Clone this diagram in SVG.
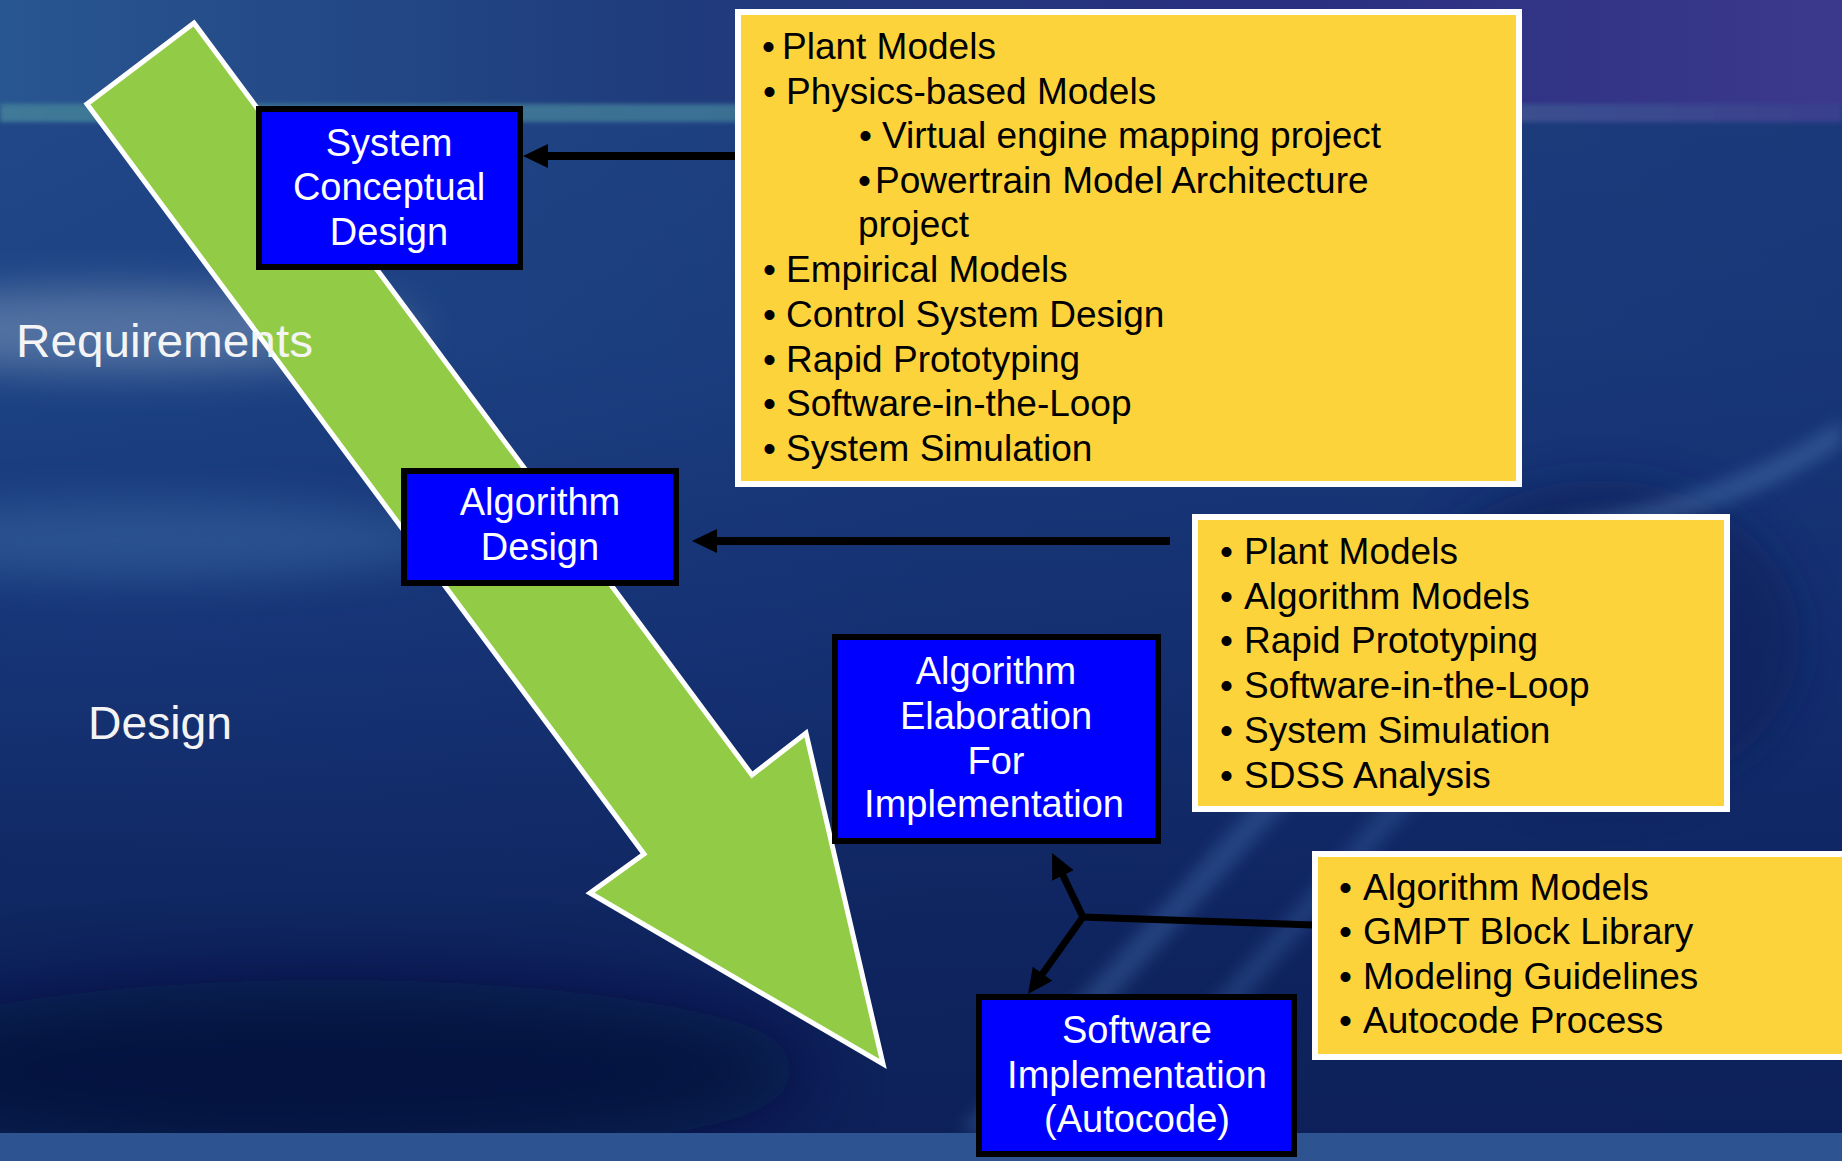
<svg xmlns="http://www.w3.org/2000/svg" width="1842" height="1161" viewBox="0 0 1842 1161">
<style>
.box{fill:#0000FF;stroke:#000;stroke-width:6}
.ybox{fill:#FDD33B;stroke:#FFFFFF;stroke-width:6}
.bt{font-family:"Liberation Sans",Arial,sans-serif;font-size:38px;fill:#FFFFFF;text-anchor:middle}
.yt{font-family:"Liberation Sans",Arial,sans-serif;font-size:37px;fill:#000000}
.lbl{font-family:"Liberation Sans",Arial,sans-serif;font-size:47px;fill:#F4F4F4}
.conn{fill:none;stroke:#000;stroke-width:8;stroke-linejoin:miter}
.conn2{fill:none;stroke:#000;stroke-width:7;stroke-linejoin:miter}
</style>
<defs>
<marker id="ah" markerUnits="userSpaceOnUse" markerWidth="26" markerHeight="26" viewBox="0 0 26 24" refX="1" refY="12" orient="auto">
<path d="M0,0 L25,12 L0,24 z" fill="#000"/>
</marker>
<linearGradient id="bgv" x1="0" y1="0" x2="0" y2="1">
<stop offset="0" stop-color="#23498a"/>
<stop offset="0.3" stop-color="#1d4384"/>
<stop offset="0.55" stop-color="#163577"/>
<stop offset="0.8" stop-color="#0f2660"/>
<stop offset="1" stop-color="#0c1f55"/>
</linearGradient>
<linearGradient id="bgh" x1="0" y1="0" x2="1" y2="0">
<stop offset="0" stop-color="#1a2c70" stop-opacity="0"/>
<stop offset="0.5" stop-color="#102260" stop-opacity="0.25"/>
<stop offset="1" stop-color="#0e2060" stop-opacity="0.35"/>
</linearGradient>
<linearGradient id="top" x1="0" y1="0" x2="1" y2="0">
<stop offset="0" stop-color="#285690"/>
<stop offset="0.35" stop-color="#1f3c7c"/>
<stop offset="0.7" stop-color="#2a2f80"/>
<stop offset="1" stop-color="#3b398c"/>
</linearGradient>
<linearGradient id="streak" x1="0" y1="0" x2="1" y2="0">
<stop offset="0" stop-color="#3f7a98"/>
<stop offset="0.5" stop-color="#3a6e92"/>
<stop offset="1" stop-color="#3a3f8e"/>
</linearGradient>
<filter id="b2" x="-10%" y="-50%" width="120%" height="200%"><feGaussianBlur stdDeviation="2"/></filter>
<filter id="b20" x="-50%" y="-100%" width="200%" height="300%"><feGaussianBlur stdDeviation="20"/></filter>
<filter id="b40" x="-50%" y="-100%" width="200%" height="300%"><feGaussianBlur stdDeviation="40"/></filter>
<filter id="b8" x="-50%" y="-50%" width="200%" height="200%"><feGaussianBlur stdDeviation="8"/></filter>
</defs>

<g id="background">
<rect x="0" y="0" width="1842" height="1161" fill="url(#bgv)"/>
<rect x="0" y="0" width="1842" height="1161" fill="url(#bgh)"/>
<ellipse cx="120" cy="330" rx="300" ry="42" fill="#7e98ba" opacity="0.55" filter="url(#b20)"/>
<ellipse cx="150" cy="540" rx="300" ry="40" fill="#3f6ea8" opacity="0.45" filter="url(#b20)"/>
<ellipse cx="330" cy="1070" rx="480" ry="90" fill="#050f35" opacity="0.7" filter="url(#b40)"/>
<ellipse cx="1600" cy="640" rx="200" ry="160" fill="#0c1c55" opacity="0.5" filter="url(#b20)"/>
<g opacity="0.35" filter="url(#b8)">
<path d="M960,1130 L1420,620 L1445,630 L990,1135 z" fill="#4b78b8"/>
<path d="M1100,1130 L1600,560 L1620,570 L1125,1135 z" fill="#3d68a8"/>
<path d="M1560,520 Q1720,500 1842,420 L1842,445 Q1720,525 1565,540 z" fill="#5a88c0"/>
</g>
<rect x="0" y="0" width="1842" height="106" fill="url(#top)"/>
<rect x="0" y="104" width="1842" height="18" fill="url(#streak)" filter="url(#b2)"/>
<rect x="0" y="1133" width="1842" height="28" fill="#2d5390"/>
</g>

<g id="flow-arrow">
<polygon points="194,23 87,104 644,854 590,893 883,1064 806,733 752,775" fill="#92CC46" stroke="#FFFFFF" stroke-width="5" stroke-linejoin="miter"/>
</g>

<g id="labels">
<text class="lbl" x="16" y="357" textLength="297" lengthAdjust="spacingAndGlyphs">Requirements</text>
<text class="lbl" x="88" y="739" textLength="144" lengthAdjust="spacingAndGlyphs">Design</text>
</g>

<g id="connectors">
<path class="conn" d="M738,156 L547,156" marker-end="url(#ah)"/>
<path class="conn" d="M1170,541 L716,541" marker-end="url(#ah)"/>
<path class="conn2" d="M1314,925 L1083,917 L1062.5,874.6" marker-end="url(#ah)"/>
<path class="conn2" d="M1083,917 L1042,974.5" marker-end="url(#ah)"/>
</g>

<g id="system-conceptual-design">
<rect class="box" x="259" y="109" width="261" height="158"/>
<text class="bt" x="389" y="156">System</text>
<text class="bt" x="389" y="200">Conceptual</text>
<text class="bt" x="389" y="245">Design</text>
</g>

<g id="algorithm-design">
<rect class="box" x="404" y="471" width="272" height="112"/>
<text class="bt" x="540" y="515">Algorithm</text>
<text class="bt" x="540" y="560">Design</text>
</g>

<g id="algorithm-elaboration">
<rect class="box" x="835" y="637" width="323" height="204"/>
<text class="bt" x="996" y="684">Algorithm</text>
<text class="bt" x="996" y="729">Elaboration</text>
<text class="bt" x="996" y="774">For</text>
<text class="bt" x="994" y="817">Implementation</text>
</g>

<g id="software-implementation">
<rect class="box" x="979" y="997" width="315" height="157"/>
<text class="bt" x="1137" y="1043">Software</text>
<text class="bt" x="1137" y="1088">Implementation</text>
<text class="bt" x="1137" y="1132">(Autocode)</text>
</g>

<g id="tools-system">
<rect class="ybox" x="738" y="12" width="781" height="472"/>
<text class="yt" y="59"><tspan x="762">•</tspan><tspan x="782">Plant Models</tspan></text>
<text class="yt" y="104"><tspan x="763">•</tspan><tspan x="786">Physics-based Models</tspan></text>
<text class="yt" y="148"><tspan x="859">•</tspan><tspan x="882">Virtual engine mapping project</tspan></text>
<text class="yt" y="193"><tspan x="858">•</tspan><tspan x="875">Powertrain Model Architecture</tspan></text>
<text class="yt" x="858" y="237">project</text>
<text class="yt" y="282"><tspan x="763">•</tspan><tspan x="786">Empirical Models</tspan></text>
<text class="yt" y="327"><tspan x="763">•</tspan><tspan x="786">Control System Design</tspan></text>
<text class="yt" y="372"><tspan x="763">•</tspan><tspan x="786">Rapid Prototyping</tspan></text>
<text class="yt" y="416"><tspan x="763">•</tspan><tspan x="786">Software-in-the-Loop</tspan></text>
<text class="yt" y="461"><tspan x="763">•</tspan><tspan x="786">System Simulation</tspan></text>
</g>

<g id="tools-algorithm">
<rect class="ybox" x="1195" y="517" width="532" height="292"/>
<text class="yt" y="564"><tspan x="1220">•</tspan><tspan x="1244">Plant Models</tspan></text>
<text class="yt" y="609"><tspan x="1220">•</tspan><tspan x="1244">Algorithm Models</tspan></text>
<text class="yt" y="653"><tspan x="1220">•</tspan><tspan x="1244">Rapid Prototyping</tspan></text>
<text class="yt" y="698"><tspan x="1220">•</tspan><tspan x="1244">Software-in-the-Loop</tspan></text>
<text class="yt" y="743"><tspan x="1220">•</tspan><tspan x="1244">System Simulation</tspan></text>
<text class="yt" y="788"><tspan x="1220">•</tspan><tspan x="1244">SDSS Analysis</tspan></text>
</g>

<g id="tools-implementation">
<rect class="ybox" x="1315" y="854" width="540" height="203"/>
<text class="yt" y="900"><tspan x="1339">•</tspan><tspan x="1363">Algorithm Models</tspan></text>
<text class="yt" y="944"><tspan x="1339">•</tspan><tspan x="1363">GMPT Block Library</tspan></text>
<text class="yt" y="989"><tspan x="1339">•</tspan><tspan x="1363">Modeling Guidelines</tspan></text>
<text class="yt" y="1033"><tspan x="1339">•</tspan><tspan x="1363">Autocode Process</tspan></text>
</g>
</svg>
